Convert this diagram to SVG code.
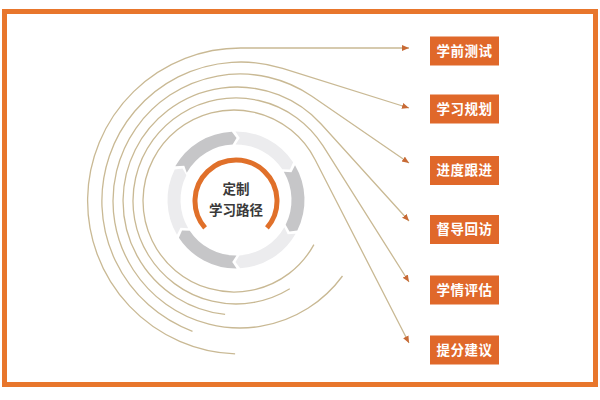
<svg xmlns="http://www.w3.org/2000/svg" width="600" height="400" viewBox="0 0 600 400">
<style>
.box{fill:#E0682A;}
.bt{fill:#ffffff;font-family:"Noto Sans CJK SC","Noto Sans",sans-serif;font-size:13.5px;font-weight:bold;text-anchor:middle;letter-spacing:0.5px;}
.ct{fill:#3a3a3a;font-family:"Noto Sans CJK SC","Noto Sans",sans-serif;font-size:13.5px;font-weight:bold;text-anchor:middle;}
.ln{fill:none;stroke:#c9b994;stroke-width:1.3;marker-end:url(#ah);}
.dk{fill:#c6c6c8;}
.lt{fill:#ececee;}
</style>
<defs>
<marker id="ah" markerUnits="userSpaceOnUse" markerWidth="8" markerHeight="7" refX="7" refY="3" orient="auto">
<path d="M0,0 L7,3 L0,6 Z" fill="#c86a35"/>
</marker>
</defs>
<rect x="0" y="0" width="600" height="400" fill="#ffffff"/>
<rect x="4.5" y="11.5" width="591" height="373" fill="none" stroke="#E8762C" stroke-width="5"/>

<g id="connectors">
<path class="ln" d="M235.1,353.9 A153,153 0 0 1 241,48 L409,48"/>
<path class="ln" d="M192.5,331.3 A139,139 0 0 1 282.6,68.4 L409,108"/>
<path class="ln" d="M342.5,276 A127,127 0 1 1 311.9,96.3 L409,163"/>
<path class="ln" d="M225.1,314.4 A114,114 0 1 1 321.1,124 L409,221"/>
<path class="ln" d="M289.8,288.8 A103,103 0 1 1 322.9,145.7 L409,282"/>
<path class="ln" d="M313.9,244.6 A91,91 0 1 1 315,159.5 L409,343"/>
</g>

<g id="center">
<path class="dk" d="M175.24,166.27 A68.5,68.5 0 0 1 231.82,131.63 L236.54,138 L232.61,144.6 A55.5,55.5 0 0 0 186.77,172.67 L184.3,165.78 Z"/>
<path class="lt" d="M235.4,131.5 A68.5,68.5 0 0 1 293.12,162.19 L289.96,169.47 L282.28,169.37 A55.5,55.5 0 0 0 235.52,144.5 L239.78,138.12 Z"/>
<path class="dk" d="M295.02,165.24 A68.5,68.5 0 0 1 297.3,230.56 L289.42,231.47 L285.67,224.76 A55.5,55.5 0 0 0 283.82,171.83 L291.48,172.34 Z"/>
<path class="lt" d="M295.62,233.73 A68.5,68.5 0 0 1 240.18,268.37 L235.46,262 L239.39,255.4 A55.5,55.5 0 0 0 284.31,227.33 L287.7,234.22 Z"/>
<path class="dk" d="M236.6,268.5 A68.5,68.5 0 0 1 178.88,237.81 L182.04,230.53 L189.72,230.63 A55.5,55.5 0 0 0 236.48,255.5 L232.22,261.88 Z"/>
<path class="lt" d="M176.98,234.76 A68.5,68.5 0 0 1 174.7,169.44 L182.58,168.53 L186.33,175.24 A55.5,55.5 0 0 0 188.18,228.17 L180.52,227.66 Z"/>
<path d="M205.06,227.9 A41,41 0 1 1 266.94,227.9" fill="none" stroke="#E0702A" stroke-width="5"/>
<text class="ct" x="236" y="194">定制</text>
<text class="ct" x="236" y="215">学习路径</text>
</g>

<g id="n1"><rect class="box" x="430" y="36.5" width="69" height="29"/><text class="bt" x="464.5" y="55.5">学前测试</text></g>
<g id="n2"><rect class="box" x="430" y="94.5" width="69" height="29"/><text class="bt" x="464.5" y="113.5">学习规划</text></g>
<g id="n3"><rect class="box" x="430" y="156" width="69" height="29"/><text class="bt" x="464.5" y="175">进度跟进</text></g>
<g id="n4"><rect class="box" x="430" y="215" width="69" height="29"/><text class="bt" x="464.5" y="234">督导回访</text></g>
<g id="n5"><rect class="box" x="430" y="275.5" width="69" height="29"/><text class="bt" x="464.5" y="294.5">学情评估</text></g>
<g id="n6"><rect class="box" x="430" y="335.5" width="69" height="29"/><text class="bt" x="464.5" y="354.5">提分建议</text></g>
</svg>
